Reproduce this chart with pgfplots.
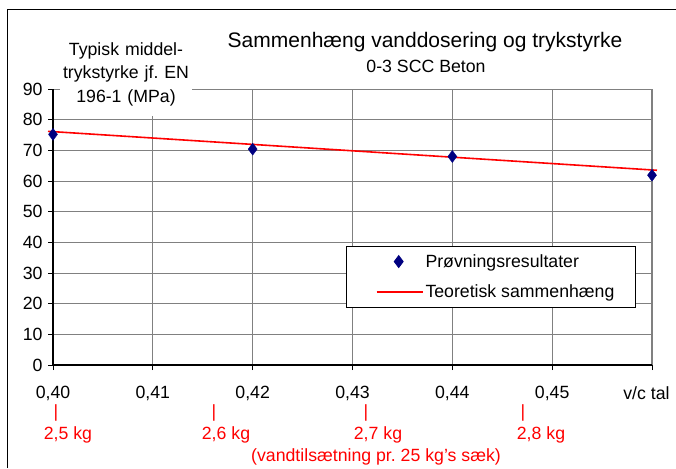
\documentclass[border=0pt]{standalone}
\usepackage{pgfplots}
\pgfplotsset{compat=1.18}
\usepackage{fontspec}
\setmainfont{Liberation Sans}
\definecolor{navyb}{HTML}{000080}
\definecolor{gridg}{HTML}{808080}
\newcommand\tf{\fontsize{17.7}{21}\selectfont}
\pgfplotsset{
  legline/.style={legend image code/.code={\draw[##1] (11pt,0) -- (57pt,0);}},
  legmark/.style={legend image code/.code={\draw[##1] plot coordinates {(33pt,0)};\path (0pt,0) (57pt,0);}},
}
\begin{document}
\frenchspacing
\begin{tikzpicture}[x=1pt,y=1pt]
\useasboundingbox (0,0) rectangle (676,468);
\draw[black, line width=1pt] (7,0) -- (7,458) -- (676,458);
\begin{axis}[
  at={(53pt,103pt)}, anchor=south west,
  scale only axis, width=599pt, height=276pt,
  xmin=0.40, xmax=0.46, ymin=0, ymax=90,
  xtick={0.40,0.41,0.42,0.43,0.44,0.45,0.46},
  xticklabels={{0,40},{0,41},{0,42},{0,43},{0,44},{0,45},{v/c tal\hspace*{11pt}}},
  ytick={0,10,20,30,40,50,60,70,80,90},
  /pgf/number format/assume math mode=true,
  every tick label/.append style={font=\tf},
  xticklabel style={yshift=-13pt},
  yticklabel style={xshift=-2pt},
  tick pos=left, tick align=outside, major tick length=5pt,
  tick style={black, line width=1pt},
  grid=major, major grid style={gridg, line width=1pt},
  axis line style={draw=none},
  clip=false,
  legend style={at={(0.489,0.431)}, anchor=north west, draw=black, line width=0.8pt,
    fill=white, inner xsep=19pt, inner ysep=6pt,
    row sep=12pt, nodes={font=\tf}},
  legend cell align=left,
]
\addplot[only marks, mark=diamond*, mark size=6pt, color=navyb, legmark]
  coordinates {(0.40,75.2) (0.42,70.4) (0.44,68.0) (0.46,61.9)};
\addlegendentry{Prøvningsresultater}
\addplot[red, line width=1.6pt, legline]
  coordinates {(0.3995,76.2) (0.4605,63.5)};
\addlegendentry{Teoretisk sammenhæng}
\draw[gridg, line width=1.6pt] (axis cs:0.46,0) -- (axis cs:0.46,90);
\draw[black, line width=1.8pt] (axis cs:0.40,0) -- (axis cs:0.46,0);
\draw[black, line width=1.8pt] (axis cs:0.40,0) -- (axis cs:0.40,90);
\end{axis}
\node[fill=white, inner xsep=1pt, inner ysep=10pt, text width=130pt, align=center,
  font=\fontsize{17.7}{23.5}\selectfont] at (126,394)
  {Typisk middel-\\trykstyrke jf. EN\\196-1 (MPa)};
\node[font=\fontsize{21}{24}\selectfont] at (425,426) {Sammenhæng vanddosering og trykstyrke};
\node[font=\tf] at (426,402) {0-3 SCC Beton};
\begin{scope}[red, font=\tf]
\node at (56,55) {|};
\node at (214,55) {|};
\node at (366,55) {|};
\node at (523,55) {|};
\node at (68,33) {2,5 kg};
\node at (226,33) {2,6 kg};
\node at (378,33) {2,7 kg};
\node at (541,33) {2,8 kg};
\node at (376,11) {(vandtilsætning pr. 25 kg's sæk)};
\end{scope}
\end{tikzpicture}
\end{document}
